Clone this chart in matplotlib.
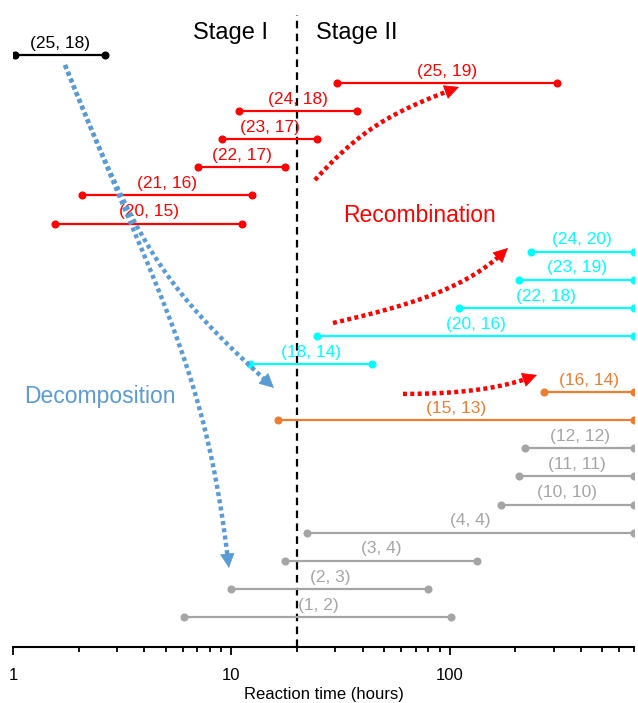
import matplotlib
matplotlib.use("Agg")
import numpy as np
import matplotlib.pyplot as plt
from matplotlib.ticker import LogLocator, NullFormatter, FixedLocator, FixedFormatter

plt.rcParams['font.family'] = ['Liberation Sans', 'DejaVu Sans']

# ---- data (top row first) ----
labels = ["(25, 18)", "(25, 19)", "(24, 18)", "(23, 17)", "(22, 17)", "(21, 16)", "(20, 15)",
          "(24, 20)", "(23, 19)", "(22, 18)", "(20, 16)", "(18, 14)",
          "(16, 14)", "(15, 13)",
          "(12, 12)", "(11, 11)", "(10, 10)", "(4, 4)", "(3, 4)", "(2, 3)", "(1, 2)"]
starts = [1.02, 30.6, 10.9, 9.1, 7.06, 2.07, 1.56,
          235, 209, 110, 24.8, 12.2,
          270, 16.4,
          222, 208, 172, 22.3, 17.7, 10.0, 6.09]
ends = [2.64, 310, 37.5, 24.8, 17.7, 12.5, 11.2,
        700, 700, 700, 700, 43.9,
        700, 700,
        700, 700, 700, 700, 134, 80, 102]
groups = ["black"] + ["red"] * 6 + ["cyan"] * 5 + ["orange"] * 2 + ["grey"] * 7
palette = {"black": "#000000", "red": "#ff0000", "cyan": "#00ffff",
           "orange": "#ed7d31", "grey": "#a5a5a5"}
stage_boundary = 20
xticks = [1, 10, 100]
xticklabels = ["1", "10", "100"]

# curved annotation arrows: cubic Bezier control points (hours, row index from bottom)
blue_decomp_long = [(1.731, 19.64), (4.815, 11.07), (7.657, 8.826), (9.761, 1.744)]
blue_decomp_short = [(1.731, 19.64), (3.818, 13.02), (4.866, 11.74), (15.69, 8.149)]
red_recomb_top = [(24.17, 15.55), (39.69, 17.40), (55.34, 17.99), (110.4, 18.86)]
red_recomb_mid = [(29.24, 10.46), (59.91, 11.03), (118.9, 11.60), (185.1, 13.13)]
red_recomb_low = [(61.17, 7.936), (103.6, 7.936), (170.2, 8.078), (251.4, 8.612)]

fig = plt.figure(figsize=(6.38, 7.03), dpi=100)
ax = fig.add_axes([13 / 638, 56 / 703, 621 / 638, 637 / 703])
ax.set_xscale("log")
ax.set_xlim(1, 700)
n = len(labels)
ax.set_ylim(-1.07, 21.6)

for i, (lab, s, e, g) in enumerate(zip(labels, starts, ends, groups)):
    y = n - 1 - i
    c = palette[g]
    ax.plot([s, e], [y, y], color=c, lw=1.6, marker="o", ms=4.8, solid_capstyle="butt", zorder=3)
    xm = (s * e) ** 0.5
    ax.annotate(lab, (xm, y), xytext=(0, 8.5), textcoords="offset points",
                ha="center", va="center", color=c, fontsize=12.5, zorder=4)

ax.axvline(stage_boundary, ymax=0.992, color="black", lw=1.6, dashes=(3.4, 2.4), zorder=2)
ax.annotate("Stage I", (stage_boundary, 20.78), xytext=(-21, 0), textcoords="offset points",
            ha="right", va="center", fontsize=17)
ax.annotate("Stage II", (stage_boundary, 20.78), xytext=(13.5, 0), textcoords="offset points",
            ha="left", va="center", fontsize=17)

ax.text(72.8, 14.27, "Recombination", color="#ff0000", fontsize=16.5, ha="center", va="center")
ax.text(2.51, 7.83, "Decomposition", color="#5b9bd5", fontsize=16.5, ha="center", va="center")


def dotted_bezier_arrow(ctrl, color):
    disp = ax.transData.transform(np.array(ctrl, dtype=float))
    t = np.linspace(0, 1, 200)[:, None]
    pts = ((1 - t) ** 3 * disp[0] + 3 * (1 - t) ** 2 * t * disp[1]
           + 3 * (1 - t) * t ** 2 * disp[2] + t ** 3 * disp[3])
    seg = np.hypot(*np.diff(pts, axis=0).T)
    arc = np.concatenate([[0], np.cumsum(seg)])
    total = arc[-1]
    cut = np.searchsorted(arc, total - 10)
    back = np.searchsorted(arc, total - 14)
    data = ax.transData.inverted().transform(pts)
    ax.plot(data[:cut, 0], data[:cut, 1], color=color, lw=3.2,
            ls=(0, (0.9, 0.75)), dash_capstyle="butt", zorder=5)
    ax.annotate("", xy=tuple(data[-1]), xytext=tuple(data[back]),
                arrowprops=dict(arrowstyle="-|>,head_length=0.48,head_width=0.24",
                                mutation_scale=20, color=color, lw=0.5,
                                shrinkA=0, shrinkB=0), zorder=6)


blue = "#5b9bd5"
dotted_bezier_arrow(blue_decomp_long, blue)
dotted_bezier_arrow(blue_decomp_short, blue)
dotted_bezier_arrow(red_recomb_top, "#ff0000")
dotted_bezier_arrow(red_recomb_mid, "#ff0000")
dotted_bezier_arrow(red_recomb_low, "#ff0000")

for sp in ["top", "right", "left"]:
    ax.spines[sp].set_visible(False)
ax.spines["bottom"].set_linewidth(1.5)
ax.set_yticks([])
ax.xaxis.set_major_locator(FixedLocator(xticks))
ax.xaxis.set_major_formatter(FixedFormatter(xticklabels))
ax.xaxis.set_minor_locator(LogLocator(base=10, subs=range(2, 10)))
ax.xaxis.set_minor_formatter(NullFormatter())
ax.tick_params(axis="x", which="major", length=6, width=1.3, pad=9, labelsize=12)
ax.tick_params(axis="x", which="minor", length=3.5, width=1.3)
ax.set_xlabel("Reaction time (hours)", fontsize=12, labelpad=3)

fig.savefig("out.png", dpi=100)
